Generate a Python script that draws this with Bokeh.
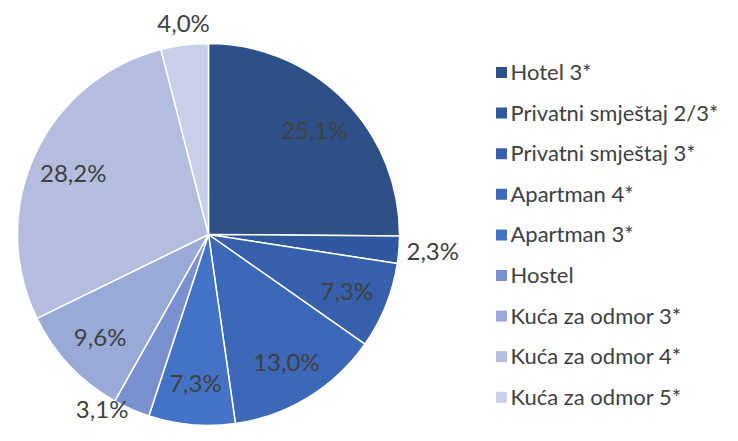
import math
from bokeh.plotting import figure
from bokeh.models import Range1d, ColumnDataSource
from bokeh.core.properties import value
from bokeh.embed import file_html
from bokeh.resources import INLINE

categories = ["Hotel 3*", "Privatni smještaj 2/3*", "Privatni smještaj 3*", "Apartman 4*",
              "Apartman 3*", "Hostel", "Kuća za odmor 3*", "Kuća za odmor 4*", "Kuća za odmor 5*"]
shares = [25.1, 2.3, 7.3, 13.0, 7.3, 3.1, 9.6, 28.2, 4.0]
labels = ["25,1%", "2,3%", "7,3%", "13,0%", "7,3%", "3,1%", "9,6%", "28,2%", "4,0%"]
colors = ["#2E5089", "#30589F", "#3660AB", "#3C69B7", "#4472C4",
          "#7B91CF", "#99AAD6", "#B3BEDF", "#C9CFE8"]

W, H = 722, 425
FONT = "Lato"
TXT = "#404040"
TOP = 441  # data y of the canvas top; data y = TOP - screen y

p = figure(width=W, height=H, output_backend="svg", toolbar_location=None,
           x_range=Range1d(0, W), y_range=Range1d(TOP - H, TOP),
           x_axis_location=None, y_axis_location=None, min_border=0)
p.grid.visible = False
p.outline_line_color = None
p.background_fill_color = "white"
p.border_fill_color = "white"

cx, cy, R = 208, TOP - 234, 191
total = sum(shares)

starts, ends = [], []
cum = 0.0
for s in shares:
    a0 = math.pi / 2 - 2 * math.pi * (cum + s) / total
    a1 = math.pi / 2 - 2 * math.pi * cum / total
    starts.append(a0)
    ends.append(a1)
    cum += s

src = ColumnDataSource(dict(start=starts, end=ends, color=colors))
p.wedge(x=cx, y=cy, radius=R, start_angle="start", end_angle="end",
        fill_color="color", line_color="white", line_width=1.5, source=src)

# data labels
ymin = TOP - H + 17
lx, ly, la, lb = [], [], [], []
for a0, a1, s in zip(starts, ends, shares):
    mid = (a0 + a1) / 2
    c, sn = math.cos(mid), math.sin(mid)
    if s < 5:
        rr = R * 1.04
        x = cx + c * rr
        y = cy + sn * rr
        a = "left" if c > 0.3 else ("right" if c < -0.3 else "center")
        if sn < -0.3:
            y = max(y - 14, ymin)
            b = "middle"
        elif sn > 0.3:
            b = "bottom"
        else:
            b = "middle"
        lx.append(x); ly.append(y); la.append(a); lb.append(b)
    else:
        rr = R * 0.78
        lx.append(cx + c * rr)
        ly.append(cy + sn * rr)
        la.append("center")
        lb.append("middle")
lsrc = ColumnDataSource(dict(x=lx, y=ly, t=labels, a=la, b=lb))
p.text(x="x", y="y", text="t", text_align="a", text_baseline="b",
       text_font=value(FONT), text_font_size="24px", text_color=TXT, source=lsrc)

# legend
n = len(categories)
gy = [TOP - (72 + 40.6 * i) for i in range(n)]
p.rect(x=[501] * n, y=gy, width=11, height=11, fill_color=colors, line_color=None)
p.text(x=[510] * n, y=[y + 1 for y in gy], text=categories,
       text_align="left", text_baseline="middle",
       text_font=value(FONT), text_font_size="22px", text_color=TXT)

open("out.html", "w").write(file_html(p, INLINE))
